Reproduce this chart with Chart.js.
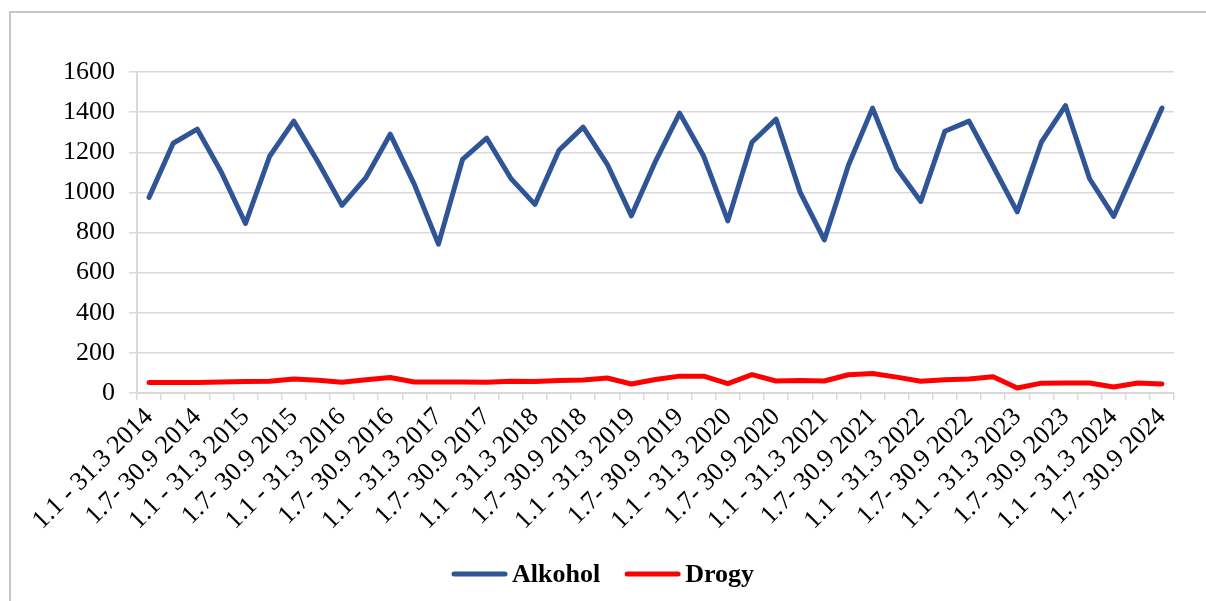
<!DOCTYPE html>
<html>
<head>
<meta charset="utf-8">
<script src="https://cdn.jsdelivr.net/npm/chart.js@4/dist/chart.umd.min.js"></script>
<style>
  html, body { margin: 0; padding: 0; background: #ffffff; overflow: hidden; }
  #wrap { width: 1206px; height: 601px; position: relative; }
  canvas { display: block; }
</style>
</head>
<body>
<div id="wrap"><canvas id="c" width="1206" height="601"></canvas></div>
<script>
// Quarterly periods 2014 Q1 - 2024 Q3
const quarters = [
  "1.1 - 31.3 2014", "1.4 - 30.6 2014", "1.7- 30.9 2014", "1.10 - 31.12 2014",
  "1.1 - 31.3 2015", "1.4 - 30.6 2015", "1.7- 30.9 2015", "1.10 - 31.12 2015",
  "1.1 - 31.3 2016", "1.4 - 30.6 2016", "1.7- 30.9 2016", "1.10 - 31.12 2016",
  "1.1 - 31.3 2017", "1.4 - 30.6 2017", "1.7- 30.9 2017", "1.10 - 31.12 2017",
  "1.1 - 31.3 2018", "1.4 - 30.6 2018", "1.7- 30.9 2018", "1.10 - 31.12 2018",
  "1.1 - 31.3 2019", "1.4 - 30.6 2019", "1.7- 30.9 2019", "1.10 - 31.12 2019",
  "1.1 - 31.3 2020", "1.4 - 30.6 2020", "1.7- 30.9 2020", "1.10 - 31.12 2020",
  "1.1 - 31.3 2021", "1.4 - 30.6 2021", "1.7- 30.9 2021", "1.10 - 31.12 2021",
  "1.1 - 31.3 2022", "1.4 - 30.6 2022", "1.7- 30.9 2022", "1.10 - 31.12 2022",
  "1.1 - 31.3 2023", "1.4 - 30.6 2023", "1.7- 30.9 2023", "1.10 - 31.12 2023",
  "1.1 - 31.3 2024", "1.4 - 30.6 2024", "1.7- 30.9 2024"
];

const alkohol = [
  975, 1245, 1315, 1100, 845, 1180, 1355, 1153, 935, 1075,
  1290, 1040, 742, 1165, 1270, 1070, 940, 1210, 1325, 1140,
  883, 1155, 1395, 1180, 858, 1250, 1365, 1000, 763, 1135,
  1420, 1120, 955, 1305, 1355, 1130, 903, 1250, 1432, 1068,
  880, 1150, 1420
];

const drogy = [
  52, 52, 52, 55, 57, 59, 70, 64, 54, 66,
  77, 55, 55, 55, 54, 59, 57, 62, 65, 75,
  45, 67, 84, 84, 47, 92, 60, 62, 60, 91,
  97, 79, 59, 66, 70, 81, 25, 49, 50, 50,
  30, 50, 45
];

const yTicks = [0, 200, 400, 600, 800, 1000, 1200, 1400, 1600];

const serif = "'Liberation Serif', 'Times New Roman', serif";
const axisGray = '#d9d9d9';

// White page with a grey frame on the left and top edges (right/bottom run off the page)
const framePlugin = {
  id: 'frame',
  beforeDraw(chart) {
    const ctx = chart.ctx;
    ctx.save();
    ctx.fillStyle = '#ffffff';
    ctx.fillRect(0, 0, chart.width, chart.height);
    ctx.strokeStyle = '#c6c6c6';
    ctx.lineWidth = 2;
    ctx.beginPath();
    ctx.moveTo(10, chart.height + 5);
    ctx.lineTo(10, 12);
    ctx.lineTo(chart.width + 5, 12);
    ctx.stroke();
    ctx.restore();
  }
};

// Legend row centred on the page: a short line sample followed by the series name
const lineLegendPlugin = {
  id: 'lineLegend',
  afterDraw(chart) {
    const ctx = chart.ctx;
    const sampleLen = 55, sampleGap = 5, itemGap = 25, y = 574;
    ctx.save();
    ctx.font = 'bold 26px ' + serif;
    ctx.textBaseline = 'middle';
    const items = chart.data.datasets.map(ds => ({
      ds, w: sampleLen + sampleGap + ctx.measureText(ds.label).width
    }));
    const total = items.reduce((s, it) => s + it.w, 0) + itemGap * (items.length - 1);
    let x = chart.width / 2 - total / 2;
    items.forEach(({ ds, w }) => {
      ctx.strokeStyle = ds.borderColor;
      ctx.lineWidth = ds.borderWidth;
      ctx.lineCap = 'round';
      ctx.beginPath();
      ctx.moveTo(x + 2, y);
      ctx.lineTo(x + sampleLen - 2, y);
      ctx.stroke();
      ctx.fillStyle = '#000000';
      ctx.textAlign = 'left';
      ctx.fillText(ds.label, x + sampleLen + sampleGap, y + 1);
      x += w + itemGap;
    });
    ctx.restore();
  }
};

new Chart(document.getElementById('c'), {
  type: 'line',
  data: {
    labels: quarters,
    datasets: [
      {
        label: 'Alkohol',
        data: alkohol,
        borderColor: '#2f5597',
        backgroundColor: '#2f5597',
        borderWidth: 5,
        borderCapStyle: 'round',
        borderJoinStyle: 'round',
        pointRadius: 0,
        tension: 0
      },
      {
        label: 'Drogy',
        data: drogy,
        borderColor: '#ff0000',
        backgroundColor: '#ff0000',
        borderWidth: 5,
        borderCapStyle: 'round',
        borderJoinStyle: 'round',
        pointRadius: 0,
        tension: 0
      }
    ]
  },
  options: {
    responsive: false,
    animation: false,
    devicePixelRatio: 1,
    layout: { padding: { left: 0, right: 32, top: 72, bottom: 58 } },
    plugins: {
      tooltip: { enabled: false },
      legend: { display: false }
    },
    scales: {
      x: {
        offset: true,
        afterFit(scale) { scale.height = 150; },
        grid: {
          offset: true,
          drawOnChartArea: false,
          drawTicks: true,
          tickLength: 7,
          color: axisGray,
          lineWidth: 1.5
        },
        border: { color: axisGray, width: 2 },
        ticks: {
          autoSkip: false,
          maxRotation: 45,
          minRotation: 45,
          padding: 2,
          color: '#000000',
          font: { family: serif, size: 26 },
          callback(value, index) {
            return index % 2 === 0 ? this.getLabelForValue(value) : '';
          }
        }
      },
      y: {
        min: yTicks[0],
        max: yTicks[yTicks.length - 1],
        afterFit(scale) { scale.width = 137; },
        afterBuildTicks(scale) { scale.ticks = yTicks.map(v => ({ value: v })); },
        grid: {
          color: axisGray,
          lineWidth: 1.5,
          tickLength: 8
        },
        border: { color: axisGray, width: 2 },
        ticks: {
          padding: 14,
          color: '#000000',
          font: { family: serif, size: 26 },
          callback(value) { return String(value); }
        }
      }
    }
  },
  plugins: [framePlugin, lineLegendPlugin]
});
</script>
</body>
</html>
